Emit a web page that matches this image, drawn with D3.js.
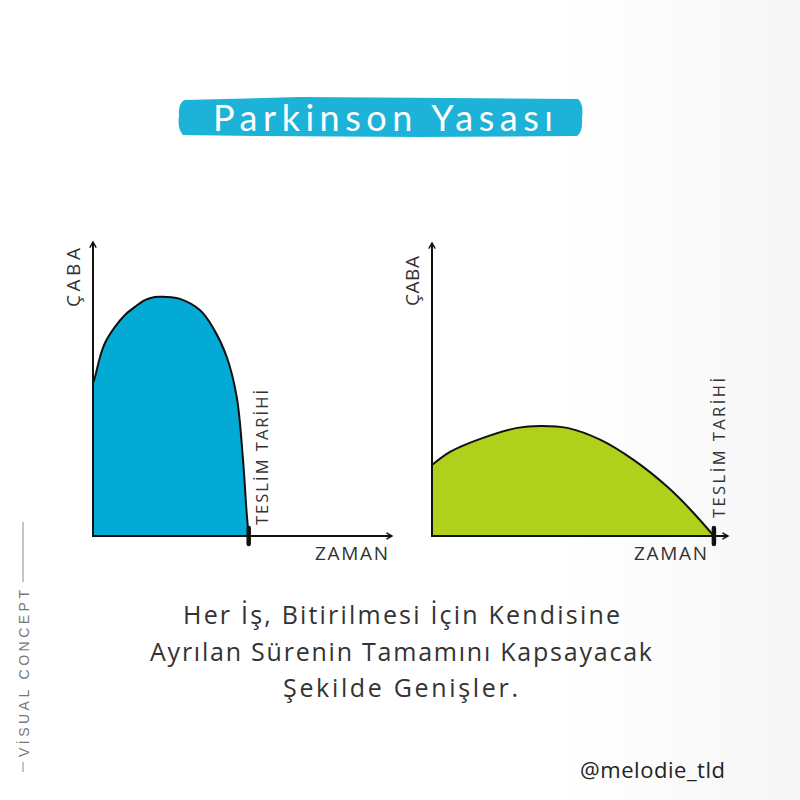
<!DOCTYPE html>
<html><head><meta charset="utf-8">
<script src="https://cdn.jsdelivr.net/npm/d3@7"></script>
<style>body{margin:0;background:#fff}svg{display:block}</style>
</head><body>
<script>
// ---- data ----
const titleText = "Parkinson Yasası";
const yLabel = "ÇABA";
const xLabel = "ZAMAN";
const deadlineLabel = "TESLİM TARİHİ";
// time in units where deadline = 10, effort 0..100
const leftTime   = [0, 0.13, 0.45, 0.77, 1.41, 2.05, 2.69, 3.33, 3.97, 4.62, 5.58, 6.86, 7.69, 8.59, 9.23, 9.62, 9.87, 10];
const leftEffort = [53.5, 55.6, 62.6, 67.5, 73.1, 77.3, 80.1, 82.5, 83.6, 83.6, 82.9, 79, 73, 62.6, 48.6, 27.6, 8, 0];
const rightTime   = [0, 0.64, 1.81, 3.02, 3.84, 4.8, 5.98, 7.15, 8.36, 9.18, 10];
const rightEffort = [24.8, 29.4, 34.3, 37.8, 38.5, 37.8, 33.6, 26.6, 17.1, 9.1, 0];
const deadline = 10;
const leftTimeMax = 19.2, rightTimeMax = 10.5;
const captionLines = ["Her İş, Bitirilmesi İçin Kendisine", "Ayrılan Sürenin Tamamını Kapsayacak", "Şekilde Genişler."];
const signature = "@melodie_tld";
const sideMark = "VİSUAL CONCEPT";

const W = 800, H = 800;
const svg = d3.select("body").append("svg").attr("width", W).attr("height", H);
const defs = svg.append("defs");
defs.append("marker").attr("id","arr").attr("viewBox","0 0 10 10").attr("refX",8).attr("refY",5)
  .attr("markerWidth",8).attr("markerHeight",8).attr("markerUnits","userSpaceOnUse").attr("orient","auto")
  .append("path").attr("d","M1,1 L8,5 L1,9").attr("fill","none").attr("stroke","#111").attr("stroke-width",1.8);

const bg = defs.append("linearGradient").attr("id","bg").attr("x1",0).attr("x2",1);
bg.append("stop").attr("offset","0.7").attr("stop-color","#ffffff");
bg.append("stop").attr("offset","1").attr("stop-color","#f6f6f6");
svg.append("rect").attr("width",W).attr("height",H).attr("fill","url(#bg)");

// title banner
const banner = svg.append("g");
banner.append("path")
  .attr("d","M184,100 L300,97 L450,98 L578,99 Q584,104 582,118 Q583,132 577,136 L420,137 L260,136 L183,135 Q177,128 179,116 Q178,104 184,100 Z")
  .attr("fill","#1db2d7");
banner.append("text").attr("x",213).attr("y",131)
  .attr("font-family","Lato, 'Open Sans', sans-serif").attr("font-size",36).attr("fill","#fff")
  .attr("textLength",340).attr("lengthAdjust","spacing")
  .text(titleText);

const fontFam = "'Open Sans', 'Noto Sans', sans-serif";

function drawChart(cfg){
  const g = svg.append("g");
  const x = d3.scaleLinear().domain([0, cfg.tMax]).range([cfg.x0, cfg.x1]);
  const y = d3.scaleLinear().domain([0, 100]).range([536, 250]);
  const data = cfg.time.map((t,i)=>({t, v: cfg.effort[i]}));
  const curve = d3.curveCatmullRom.alpha(0.5);
  const area = d3.area().x(d=>x(d.t)).y0(y(0)).y1(d=>y(d.v)).curve(curve);
  const line = d3.line().x(d=>x(d.t)).y(d=>y(d.v)).curve(curve);
  g.append("path").datum(data).attr("d",area).attr("fill",cfg.color);
  g.append("path").datum(data).attr("d",line).attr("fill","none").attr("stroke","#111").attr("stroke-width",2);
  // axes
  g.append("line").attr("x1",x(0)).attr("x2",x(0)).attr("y1",y(0)+1).attr("y2",cfg.yTop)
    .attr("stroke","#111").attr("stroke-width",2).attr("marker-end","url(#arr)");
  g.append("line").attr("x1",x(0)-1).attr("x2",x(cfg.tMax)).attr("y1",y(0)).attr("y2",y(0))
    .attr("stroke","#111").attr("stroke-width",2).attr("marker-end","url(#arr)");
  // deadline tick
  g.append("line").attr("x1",x(deadline)).attr("x2",x(deadline)).attr("y1",y(0)-8).attr("y2",y(0)+8)
    .attr("stroke","#111").attr("stroke-width",4.5).attr("stroke-linecap","round");
  // labels
  g.append("text").attr("transform",`translate(${x(0)-13},${cfg.cabaY1}) rotate(-90)`)
    .attr("font-family",fontFam).attr("font-size",19).attr("fill","#333")
    .attr("textLength",cfg.cabaLen).attr("lengthAdjust","spacing")
    .text(yLabel);
  g.append("text").attr("x",cfg.zamanX).attr("y",560)
    .attr("font-family",fontFam).attr("font-size",19).attr("fill","#333")
    .attr("textLength",73).attr("lengthAdjust","spacing").text(xLabel);
  g.append("text").attr("transform",`translate(${x(deadline)+cfg.dlDx},${cfg.dlY}) rotate(-90)`)
    .attr("font-family",fontFam).attr("font-size",16.5).attr("fill","#333")
    .attr("textLength",cfg.dlLen).attr("lengthAdjust","spacing")
    .text(deadlineLabel);
}

drawChart({time:leftTime, effort:leftEffort, tMax:leftTimeMax, x0:93, x1:392, yTop:242, color:"#04aad6",
  cabaY1:307, cabaLen:59, zamanX:315, dlDx:19, dlY:525, dlLen:135});
drawChart({time:rightTime, effort:rightEffort, tMax:rightTimeMax, x0:432, x1:728, yTop:243, color:"#afd11b",
  cabaY1:306, cabaLen:50, zamanX:634, dlDx:11, dlY:518, dlLen:140});

// caption
const cap = svg.append("g").attr("font-family",fontFam).attr("font-size",25).attr("fill","#333");
const capX = [183, 150, 283], capLen = [437, 502, 235], capY = [624, 661, 697];
captionLines.forEach((t,i)=>{
  cap.append("text").attr("x", capX[i]).attr("y", capY[i])
    .attr("textLength",capLen[i]).attr("lengthAdjust","spacing").text(t);
});

// signature
svg.append("text").attr("x",580).attr("y",778).attr("font-family",fontFam).attr("font-size",22)
  .attr("fill","#222").attr("textLength",145).attr("lengthAdjust","spacing").text(signature);

// side mark
const sm = svg.append("g").attr("stroke","#888").attr("stroke-width",1);
sm.append("line").attr("x1",23).attr("x2",23).attr("y1",522).attr("y2",582);
sm.append("line").attr("x1",23).attr("x2",23).attr("y1",762).attr("y2",772);
svg.append("text").attr("transform","translate(29,757) rotate(-90)")
  .attr("font-family","'Liberation Sans', Arial, sans-serif").attr("font-size",14)
  .attr("textLength",167).attr("lengthAdjust","spacing")
  .attr("fill","#777").text(sideMark);
</script>
</body></html>
